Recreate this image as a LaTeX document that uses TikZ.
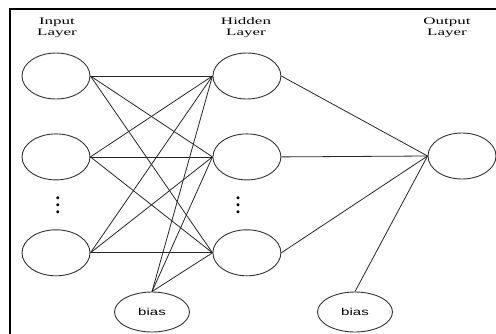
\documentclass[tikz,border=0pt]{standalone}
\usepackage{fontspec}
\setmainfont{Liberation Serif}
\setsansfont{Liberation Sans}
\usetikzlibrary{shapes.geometric,positioning}

\begin{document}
\begin{tikzpicture}[x=1pt,y=-1pt]
\tikzstyle{neuron}=[ellipse, draw=black!80, line width=0.9pt, minimum width=68pt, minimum height=46pt, inner sep=0pt]
\tikzstyle{biasnode}=[ellipse, draw=black!80, line width=0.9pt, minimum width=50pt, minimum height=40pt, inner sep=0pt, xscale=1.5, font=\sffamily\fontsize{10}{12}\selectfont]
\tikzstyle{layer}=[align=center, xscale=1.7, inner sep=0pt, text=black, font=\fontsize{10}{11}\selectfont]
\tikzstyle{vdots}=[scale=1.8, inner sep=0pt, font=\bfseries]
\tikzstyle{connect}=[draw=black!85, line width=0.8pt]
\useasboundingbox (0,0) rectangle (496,333);
\draw[line width=2.6pt] (10,340) -- (10,9) -- (505,9);
  \node[neuron] (i1) at (56,76) {};
  \node[neuron] (i2) [below=34pt of i1] {};
  \node[neuron] (i3) [below=49pt of i2] {};
  \node[neuron] (h1) [right=122pt of i1] {};
  \node[neuron] (h2) [right=122pt of i2] {};
  \node[neuron] (h3) [right=122pt of i3] {};
  \node[neuron] (o1) at (462,156) {};
  \node[biasnode] (b1) at (152,312) {bias};
  \node[biasnode] (b2) at (355,312) {bias};
  \node[vdots] (di) at (58,200) {\vdots};
  \node[vdots] (dh) at (238,200) {\vdots};
  \node[layer] (li) at (57,28) {Input\\Layer};
  \node[layer] (lh) at (246,28) {Hidden\\Layer};
  \node[layer] (lo) at (447,28) {Output\\Layer};
  \foreach \h in {h1,h2,h3}{
    \foreach \i in {i1,i2,i3}
      \path[connect] (\i.east) -- (\h.west);
    \path[connect] (b1.north) -- (\h.west);
    \path[connect] (\h.east) -- (o1.west);
  }
  \path[connect] (b2.north) edge (o1.west);
\end{tikzpicture}
\end{document}
